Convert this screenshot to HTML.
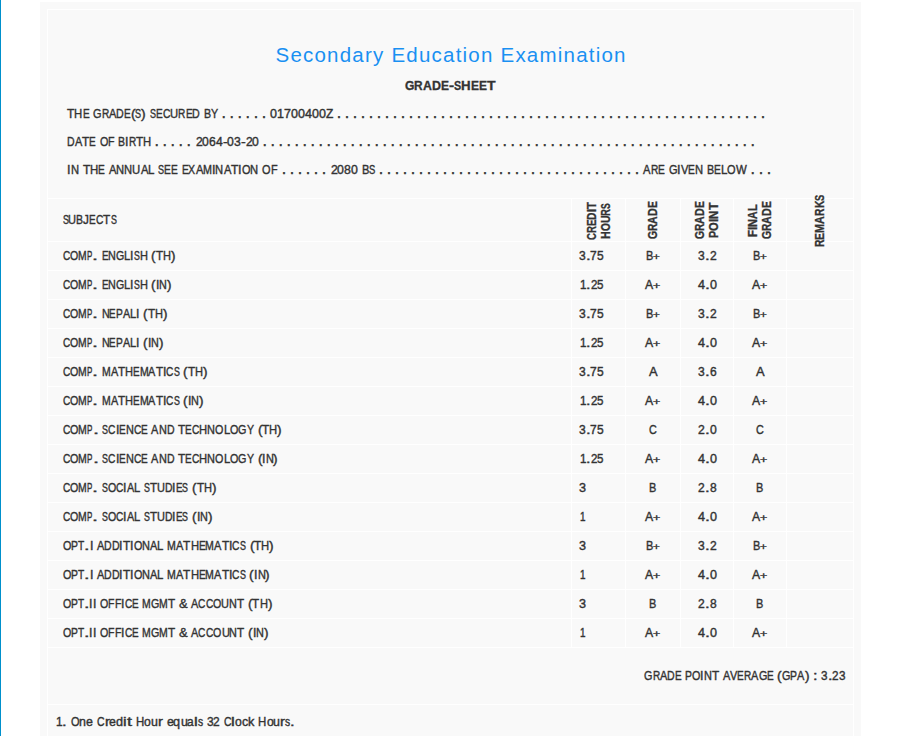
<!DOCTYPE html>
<html><head><meta charset="utf-8"><title>Grade Sheet</title>
<style>
html,body{margin:0;padding:0;}
html{width:897px;height:736px;overflow:hidden;}
body{width:897px;height:736px;overflow:hidden;background:#ffffff;position:relative;font-family:"Liberation Sans",sans-serif;}
.bar{position:absolute;left:0;top:0;width:1px;height:736px;background:#0090cc;}
.outer{position:absolute;left:40px;top:2px;width:821px;height:734px;background:#f9f9f9;}
.inner{position:absolute;left:47px;top:9px;width:805px;height:726px;background:#f9f9f9;border:1px solid #ffffff;border-bottom:none;}
.hl{position:absolute;height:1px;background:#ffffff;left:48px;width:805px;}
.vl{position:absolute;width:1px;background:#ffffff;top:198px;height:450px;}
.t{position:absolute;white-space:nowrap;line-height:20px;transform-origin:0 0;-webkit-text-stroke:0.40px #333333;}
.t i{display:inline-block;font-style:normal;transform-origin:0 50%;}
.b{font-weight:bold;-webkit-text-stroke:0.33px #333333;}
.ttl{-webkit-text-stroke:0.3px #f9f9f9;}
.dt{color:#333;}
</style></head><body>
<div class="bar"></div><div class="outer"></div><div class="inner"></div>

<div class="hl" style="top:198px"></div>
<div class="hl" style="top:241px"></div>
<div class="hl" style="top:270px"></div>
<div class="hl" style="top:299px"></div>
<div class="hl" style="top:328px"></div>
<div class="hl" style="top:357px"></div>
<div class="hl" style="top:386px"></div>
<div class="hl" style="top:415px"></div>
<div class="hl" style="top:444px"></div>
<div class="hl" style="top:473px"></div>
<div class="hl" style="top:502px"></div>
<div class="hl" style="top:531px"></div>
<div class="hl" style="top:560px"></div>
<div class="hl" style="top:589px"></div>
<div class="hl" style="top:618px"></div>
<div class="hl" style="top:647px"></div>
<div class="hl" style="top:704px"></div>
<div class="vl" style="left:571px"></div>
<div class="vl" style="left:625px"></div>
<div class="vl" style="left:680px"></div>
<div class="vl" style="left:733px"></div>
<div class="vl" style="left:786px"></div>
<span class="t dt" style="left:221.48px;top:103.36px;font-size:16.0px;letter-spacing:3.595px">......</span>
<span class="t dt" style="left:336.63px;top:103.36px;font-size:16.0px;letter-spacing:3.558px">......................................................</span>
<span class="t dt" style="left:154.48px;top:131.36px;font-size:16.0px;letter-spacing:3.580px">.....</span>
<span class="t dt" style="left:262.43px;top:131.36px;font-size:16.0px;letter-spacing:3.557px">..............................................................</span>
<span class="t dt" style="left:281.68px;top:159.36px;font-size:16.0px;letter-spacing:3.555px">......</span>
<span class="t dt" style="left:378.68px;top:159.36px;font-size:16.0px;letter-spacing:3.558px">.................................</span>
<span class="t dt" style="left:750.58px;top:159.36px;font-size:16.0px;letter-spacing:3.605px">...</span>
<svg class="tsvg" width="897" height="100" viewBox="0 0 897 100" style="position:absolute;left:0;top:0"><text x="275.5" y="62" font-size="20.5" fill="#1990f2" textLength="350" lengthAdjust="spacing" style="font-family:'Liberation Sans',sans-serif">Secondary Education Examination</text></svg>
<span class="t b" id="t1" style="left:405.00px;top:75.59px;font-size:13.60px;color:#333333"><i style="transform:scaleX(0.889);margin-right:-1.17px">G</i><i style="transform:scaleX(0.872);margin-right:-1.26px">R</i><i style="transform:scaleX(0.905);margin-right:-0.93px">A</i><i style="transform:scaleX(0.918);margin-right:-0.81px">D</i><i style="transform:scaleX(0.881);margin-right:-1.08px">E</i><i style="transform:scaleX(1.136);margin-right:0.62px">-</i><i style="transform:scaleX(0.790);margin-right:-1.91px">S</i><i style="transform:scaleX(0.976);margin-right:-0.23px">H</i><i style="transform:scaleX(0.881);margin-right:-1.08px">E</i><i style="transform:scaleX(0.881);margin-right:-1.08px">E</i><i style="transform:scaleX(1.031);margin-right:0.26px">T</i></span>
<span class="t" id="t2" style="left:67.20px;top:103.57px;font-size:12.50px;color:#333333"><i style="transform:scaleX(0.954);margin-right:-0.35px">T</i><i style="transform:scaleX(0.908);margin-right:-0.83px">H</i><i style="transform:scaleX(0.806);margin-right:-1.62px">E</i><i style="transform:scaleX(0.871);margin-right:-1.25px;margin-left:3.77px">G</i><i style="transform:scaleX(0.808);margin-right:-1.73px">R</i><i style="transform:scaleX(0.887);margin-right:-0.94px">A</i><i style="transform:scaleX(0.851);margin-right:-1.34px">D</i><i style="transform:scaleX(0.806);margin-right:-1.62px">E</i><i style="transform:scaleX(1.105);margin-right:0.44px">(</i><i style="transform:scaleX(0.723);margin-right:-2.31px">S</i><i style="transform:scaleX(1.105);margin-right:0.44px">)</i><i style="transform:scaleX(0.723);margin-right:-2.31px;margin-left:3.77px">S</i><i style="transform:scaleX(0.806);margin-right:-1.62px">E</i><i style="transform:scaleX(0.830);margin-right:-1.53px">C</i><i style="transform:scaleX(0.900);margin-right:-0.91px">U</i><i style="transform:scaleX(0.808);margin-right:-1.73px">R</i><i style="transform:scaleX(0.806);margin-right:-1.62px">E</i><i style="transform:scaleX(0.851);margin-right:-1.34px">D</i><i style="transform:scaleX(0.851);margin-right:-1.24px;margin-left:3.77px">B</i><i style="transform:scaleX(0.857);margin-right:-1.19px">Y</i></span>
<span class="t" id="t3" style="left:270.30px;top:103.57px;font-size:12.50px;color:#333333"><i style="transform:scaleX(1.001);margin-right:0.01px">0</i><i style="transform:scaleX(1.001);margin-right:0.01px">1</i><i style="transform:scaleX(1.001);margin-right:0.01px">7</i><i style="transform:scaleX(1.001);margin-right:0.01px">0</i><i style="transform:scaleX(1.001);margin-right:0.01px">0</i><i style="transform:scaleX(1.001);margin-right:0.01px">4</i><i style="transform:scaleX(1.001);margin-right:0.01px">0</i><i style="transform:scaleX(1.001);margin-right:0.01px">0</i><i style="transform:scaleX(0.957);margin-right:-0.33px">Z</i></span>
<span class="t" id="t4" style="left:67.20px;top:132.07px;font-size:12.50px;color:#333333"><i style="transform:scaleX(0.841);margin-right:-1.43px">D</i><i style="transform:scaleX(0.876);margin-right:-1.03px">A</i><i style="transform:scaleX(0.942);margin-right:-0.44px">T</i><i style="transform:scaleX(0.796);margin-right:-1.70px">E</i><i style="transform:scaleX(0.859);margin-right:-1.37px;margin-left:3.73px">O</i><i style="transform:scaleX(0.852);margin-right:-1.13px">F</i><i style="transform:scaleX(0.841);margin-right:-1.33px;margin-left:3.73px">B</i><i style="transform:scaleX(0.991);margin-right:-0.03px">I</i><i style="transform:scaleX(0.799);margin-right:-1.82px">R</i><i style="transform:scaleX(0.942);margin-right:-0.44px">T</i><i style="transform:scaleX(0.897);margin-right:-0.93px">H</i></span>
<span class="t" id="t5" style="left:195.50px;top:132.07px;font-size:12.50px;color:#333333"><i style="transform:scaleX(0.973);margin-right:-0.19px">2</i><i style="transform:scaleX(0.973);margin-right:-0.19px">0</i><i style="transform:scaleX(0.973);margin-right:-0.19px">6</i><i style="transform:scaleX(0.973);margin-right:-0.19px">4</i><i style="transform:scaleX(1.138);margin-right:0.58px">-</i><i style="transform:scaleX(0.973);margin-right:-0.19px">0</i><i style="transform:scaleX(0.973);margin-right:-0.19px">3</i><i style="transform:scaleX(1.138);margin-right:0.58px">-</i><i style="transform:scaleX(0.973);margin-right:-0.19px">2</i><i style="transform:scaleX(0.973);margin-right:-0.19px">0</i></span>
<span class="t" id="t6" style="left:67.20px;top:160.07px;font-size:12.50px;color:#333333"><i style="transform:scaleX(1.011);margin-right:0.04px">I</i><i style="transform:scaleX(0.892);margin-right:-0.97px">N</i><i style="transform:scaleX(0.961);margin-right:-0.30px;margin-left:3.80px">T</i><i style="transform:scaleX(0.915);margin-right:-0.77px">H</i><i style="transform:scaleX(0.812);margin-right:-1.57px">E</i><i style="transform:scaleX(0.894);margin-right:-0.89px;margin-left:3.80px">A</i><i style="transform:scaleX(0.892);margin-right:-0.97px">N</i><i style="transform:scaleX(0.892);margin-right:-0.97px">N</i><i style="transform:scaleX(0.906);margin-right:-0.84px">U</i><i style="transform:scaleX(0.894);margin-right:-0.89px">A</i><i style="transform:scaleX(0.919);margin-right:-0.56px">L</i><i style="transform:scaleX(0.728);margin-right:-2.26px;margin-left:3.80px">S</i><i style="transform:scaleX(0.812);margin-right:-1.57px">E</i><i style="transform:scaleX(0.812);margin-right:-1.57px">E</i><i style="transform:scaleX(0.812);margin-right:-1.57px;margin-left:3.80px">E</i><i style="transform:scaleX(0.844);margin-right:-1.30px">X</i><i style="transform:scaleX(0.894);margin-right:-0.89px">A</i><i style="transform:scaleX(0.860);margin-right:-1.46px">M</i><i style="transform:scaleX(1.011);margin-right:0.04px">I</i><i style="transform:scaleX(0.892);margin-right:-0.97px">N</i><i style="transform:scaleX(0.894);margin-right:-0.89px">A</i><i style="transform:scaleX(0.961);margin-right:-0.30px">T</i><i style="transform:scaleX(1.011);margin-right:0.04px">I</i><i style="transform:scaleX(0.875);margin-right:-1.21px">O</i><i style="transform:scaleX(0.892);margin-right:-0.97px">N</i><i style="transform:scaleX(0.875);margin-right:-1.21px;margin-left:3.80px">O</i><i style="transform:scaleX(0.868);margin-right:-1.01px">F</i></span>
<span class="t" id="t7" style="left:330.50px;top:160.07px;font-size:12.50px;color:#333333"><i style="transform:scaleX(0.985);margin-right:-0.11px">2</i><i style="transform:scaleX(0.985);margin-right:-0.11px">0</i><i style="transform:scaleX(0.985);margin-right:-0.11px">8</i><i style="transform:scaleX(0.985);margin-right:-0.11px">0</i><i style="transform:scaleX(0.887);margin-right:-0.94px;margin-left:3.93px">B</i><i style="transform:scaleX(0.754);margin-right:-2.05px">S</i></span>
<span class="t" id="t8" style="left:643.30px;top:160.07px;font-size:12.50px;color:#333333"><i style="transform:scaleX(0.895);margin-right:-0.87px">A</i><i style="transform:scaleX(0.815);margin-right:-1.67px">R</i><i style="transform:scaleX(0.813);margin-right:-1.56px">E</i><i style="transform:scaleX(0.879);margin-right:-1.17px;margin-left:3.81px">G</i><i style="transform:scaleX(1.013);margin-right:0.04px">I</i><i style="transform:scaleX(0.891);margin-right:-0.91px">V</i><i style="transform:scaleX(0.813);margin-right:-1.56px">E</i><i style="transform:scaleX(0.894);margin-right:-0.96px">N</i><i style="transform:scaleX(0.859);margin-right:-1.18px;margin-left:3.81px">B</i><i style="transform:scaleX(0.813);margin-right:-1.56px">E</i><i style="transform:scaleX(0.921);margin-right:-0.55px">L</i><i style="transform:scaleX(0.877);margin-right:-1.20px">O</i><i style="transform:scaleX(0.913);margin-right:-1.02px">W</i></span>
<span class="t" id="t9" style="left:62.50px;top:209.67px;font-size:12.50px;color:#333333"><i style="transform:scaleX(0.712);margin-right:-2.40px">S</i><i style="transform:scaleX(0.886);margin-right:-1.03px">U</i><i style="transform:scaleX(0.838);margin-right:-1.35px">B</i><i style="transform:scaleX(0.942);margin-right:-0.36px">J</i><i style="transform:scaleX(0.793);margin-right:-1.72px">E</i><i style="transform:scaleX(0.817);margin-right:-1.65px">C</i><i style="transform:scaleX(0.939);margin-right:-0.47px">T</i><i style="transform:scaleX(0.712);margin-right:-2.40px">S</i></span>
<span class="t" id="t10" style="left:62.50px;top:245.67px;font-size:12.50px;color:#333333"><i style="transform:scaleX(0.807);margin-right:-1.74px">C</i><i style="transform:scaleX(0.844);margin-right:-1.51px">O</i><i style="transform:scaleX(0.829);margin-right:-1.78px">M</i><i style="transform:scaleX(0.635);margin-right:-3.04px">P</i><i style="transform:scaleX(1.719);margin-right:2.50px">.</i><i style="transform:scaleX(0.783);margin-right:-1.81px;margin-left:3.67px">E</i><i style="transform:scaleX(0.861);margin-right:-1.26px">N</i><i style="transform:scaleX(0.847);margin-right:-1.49px">G</i><i style="transform:scaleX(0.886);margin-right:-0.79px">L</i><i style="transform:scaleX(0.975);margin-right:-0.09px">I</i><i style="transform:scaleX(0.703);margin-right:-2.48px">S</i><i style="transform:scaleX(0.882);margin-right:-1.06px">H</i><i style="transform:scaleX(1.074);margin-right:0.31px;margin-left:3.67px">(</i><i style="transform:scaleX(0.927);margin-right:-0.56px">T</i><i style="transform:scaleX(0.882);margin-right:-1.06px">H</i><i style="transform:scaleX(1.074);margin-right:0.31px">)</i></span>
<span class="t" id="t11" style="left:578.80px;top:245.67px;font-size:12.50px;color:#333333"><i style="transform:scaleX(0.964);margin-right:-0.25px">3</i><i style="transform:scaleX(1.352);margin-right:1.22px">.</i><i style="transform:scaleX(0.964);margin-right:-0.25px">7</i><i style="transform:scaleX(0.964);margin-right:-0.25px">5</i></span>
<span class="t" id="t12" style="left:645.95px;top:245.67px;font-size:12.50px;color:#333333"><i style="transform:scaleX(0.878);margin-right:-1.02px">B</i><i style="transform:scaleX(1.190);margin-right:1.08px;font-size:9.75px;position:relative;top:0.1px">+</i></span>
<span class="t" id="t13" style="left:698.25px;top:245.67px;font-size:12.50px;color:#333333"><i style="transform:scaleX(0.964);margin-right:-0.25px">3</i><i style="transform:scaleX(1.352);margin-right:1.22px">.</i><i style="transform:scaleX(0.964);margin-right:-0.25px">2</i></span>
<span class="t" id="t14" style="left:752.95px;top:245.67px;font-size:12.50px;color:#333333"><i style="transform:scaleX(0.878);margin-right:-1.02px">B</i><i style="transform:scaleX(1.190);margin-right:1.08px;font-size:9.75px;position:relative;top:0.1px">+</i></span>
<span class="t" id="t15" style="left:62.50px;top:274.67px;font-size:12.50px;color:#333333"><i style="transform:scaleX(0.806);margin-right:-1.75px">C</i><i style="transform:scaleX(0.843);margin-right:-1.52px">O</i><i style="transform:scaleX(0.828);margin-right:-1.79px">M</i><i style="transform:scaleX(0.634);margin-right:-3.05px">P</i><i style="transform:scaleX(1.717);margin-right:2.49px">.</i><i style="transform:scaleX(0.782);margin-right:-1.82px;margin-left:3.66px">E</i><i style="transform:scaleX(0.860);margin-right:-1.27px">N</i><i style="transform:scaleX(0.846);margin-right:-1.50px">G</i><i style="transform:scaleX(0.885);margin-right:-0.80px">L</i><i style="transform:scaleX(0.974);margin-right:-0.09px">I</i><i style="transform:scaleX(0.702);margin-right:-2.49px">S</i><i style="transform:scaleX(0.881);margin-right:-1.07px">H</i><i style="transform:scaleX(1.073);margin-right:0.30px;margin-left:3.66px">(</i><i style="transform:scaleX(0.974);margin-right:-0.09px">I</i><i style="transform:scaleX(0.860);margin-right:-1.27px">N</i><i style="transform:scaleX(1.073);margin-right:0.30px">)</i></span>
<span class="t" id="t16" style="left:579.80px;top:274.67px;font-size:12.50px;color:#333333"><i style="transform:scaleX(0.925);margin-right:-0.52px">1</i><i style="transform:scaleX(1.297);margin-right:1.03px">.</i><i style="transform:scaleX(0.925);margin-right:-0.52px">2</i><i style="transform:scaleX(0.925);margin-right:-0.52px">5</i></span>
<span class="t" id="t17" style="left:645.30px;top:274.67px;font-size:12.50px;color:#333333"><i style="transform:scaleX(0.978);margin-right:-0.18px">A</i><i style="transform:scaleX(1.272);margin-right:1.55px;font-size:9.75px;position:relative;top:0.1px">+</i></span>
<span class="t" id="t18" style="left:697.85px;top:274.67px;font-size:12.50px;color:#333333"><i style="transform:scaleX(1.007);margin-right:0.05px">4</i><i style="transform:scaleX(1.411);margin-right:1.43px">.</i><i style="transform:scaleX(1.007);margin-right:0.05px">0</i></span>
<span class="t" id="t19" style="left:752.30px;top:274.67px;font-size:12.50px;color:#333333"><i style="transform:scaleX(0.978);margin-right:-0.18px">A</i><i style="transform:scaleX(1.272);margin-right:1.55px;font-size:9.75px;position:relative;top:0.1px">+</i></span>
<span class="t" id="t20" style="left:62.50px;top:303.67px;font-size:12.50px;color:#333333"><i style="transform:scaleX(0.807);margin-right:-1.74px">C</i><i style="transform:scaleX(0.845);margin-right:-1.51px">O</i><i style="transform:scaleX(0.830);margin-right:-1.77px">M</i><i style="transform:scaleX(0.636);margin-right:-3.04px">P</i><i style="transform:scaleX(1.720);margin-right:2.50px">.</i><i style="transform:scaleX(0.861);margin-right:-1.25px;margin-left:3.67px">N</i><i style="transform:scaleX(0.783);margin-right:-1.81px">E</i><i style="transform:scaleX(0.816);margin-right:-1.54px">P</i><i style="transform:scaleX(0.862);margin-right:-1.15px">A</i><i style="transform:scaleX(0.887);margin-right:-0.79px">L</i><i style="transform:scaleX(0.976);margin-right:-0.08px">I</i><i style="transform:scaleX(1.074);margin-right:0.31px;margin-left:3.67px">(</i><i style="transform:scaleX(0.927);margin-right:-0.55px">T</i><i style="transform:scaleX(0.883);margin-right:-1.06px">H</i><i style="transform:scaleX(1.074);margin-right:0.31px">)</i></span>
<span class="t" id="t21" style="left:578.80px;top:303.67px;font-size:12.50px;color:#333333"><i style="transform:scaleX(0.964);margin-right:-0.25px">3</i><i style="transform:scaleX(1.352);margin-right:1.22px">.</i><i style="transform:scaleX(0.964);margin-right:-0.25px">7</i><i style="transform:scaleX(0.964);margin-right:-0.25px">5</i></span>
<span class="t" id="t22" style="left:645.95px;top:303.67px;font-size:12.50px;color:#333333"><i style="transform:scaleX(0.878);margin-right:-1.02px">B</i><i style="transform:scaleX(1.190);margin-right:1.08px;font-size:9.75px;position:relative;top:0.1px">+</i></span>
<span class="t" id="t23" style="left:698.25px;top:303.67px;font-size:12.50px;color:#333333"><i style="transform:scaleX(0.964);margin-right:-0.25px">3</i><i style="transform:scaleX(1.352);margin-right:1.22px">.</i><i style="transform:scaleX(0.964);margin-right:-0.25px">2</i></span>
<span class="t" id="t24" style="left:752.95px;top:303.67px;font-size:12.50px;color:#333333"><i style="transform:scaleX(0.878);margin-right:-1.02px">B</i><i style="transform:scaleX(1.190);margin-right:1.08px;font-size:9.75px;position:relative;top:0.1px">+</i></span>
<span class="t" id="t25" style="left:62.50px;top:332.67px;font-size:12.50px;color:#333333"><i style="transform:scaleX(0.806);margin-right:-1.75px">C</i><i style="transform:scaleX(0.844);margin-right:-1.52px">O</i><i style="transform:scaleX(0.829);margin-right:-1.78px">M</i><i style="transform:scaleX(0.635);margin-right:-3.04px">P</i><i style="transform:scaleX(1.718);margin-right:2.49px">.</i><i style="transform:scaleX(0.860);margin-right:-1.26px;margin-left:3.66px">N</i><i style="transform:scaleX(0.783);margin-right:-1.81px">E</i><i style="transform:scaleX(0.815);margin-right:-1.54px">P</i><i style="transform:scaleX(0.861);margin-right:-1.16px">A</i><i style="transform:scaleX(0.886);margin-right:-0.79px">L</i><i style="transform:scaleX(0.974);margin-right:-0.09px">I</i><i style="transform:scaleX(1.073);margin-right:0.30px;margin-left:3.66px">(</i><i style="transform:scaleX(0.974);margin-right:-0.09px">I</i><i style="transform:scaleX(0.860);margin-right:-1.26px">N</i><i style="transform:scaleX(1.073);margin-right:0.30px">)</i></span>
<span class="t" id="t26" style="left:579.80px;top:332.67px;font-size:12.50px;color:#333333"><i style="transform:scaleX(0.925);margin-right:-0.52px">1</i><i style="transform:scaleX(1.297);margin-right:1.03px">.</i><i style="transform:scaleX(0.925);margin-right:-0.52px">2</i><i style="transform:scaleX(0.925);margin-right:-0.52px">5</i></span>
<span class="t" id="t27" style="left:645.30px;top:332.67px;font-size:12.50px;color:#333333"><i style="transform:scaleX(0.978);margin-right:-0.18px">A</i><i style="transform:scaleX(1.272);margin-right:1.55px;font-size:9.75px;position:relative;top:0.1px">+</i></span>
<span class="t" id="t28" style="left:697.85px;top:332.67px;font-size:12.50px;color:#333333"><i style="transform:scaleX(1.007);margin-right:0.05px">4</i><i style="transform:scaleX(1.411);margin-right:1.43px">.</i><i style="transform:scaleX(1.007);margin-right:0.05px">0</i></span>
<span class="t" id="t29" style="left:752.30px;top:332.67px;font-size:12.50px;color:#333333"><i style="transform:scaleX(0.978);margin-right:-0.18px">A</i><i style="transform:scaleX(1.272);margin-right:1.55px;font-size:9.75px;position:relative;top:0.1px">+</i></span>
<span class="t" id="t30" style="left:62.50px;top:361.67px;font-size:12.50px;color:#333333"><i style="transform:scaleX(0.813);margin-right:-1.68px">C</i><i style="transform:scaleX(0.851);margin-right:-1.45px">O</i><i style="transform:scaleX(0.836);margin-right:-1.71px">M</i><i style="transform:scaleX(0.642);margin-right:-2.99px">P</i><i style="transform:scaleX(1.730);margin-right:2.53px">.</i><i style="transform:scaleX(0.836);margin-right:-1.71px;margin-left:3.70px">M</i><i style="transform:scaleX(0.869);margin-right:-1.09px">A</i><i style="transform:scaleX(0.934);margin-right:-0.50px">T</i><i style="transform:scaleX(0.890);margin-right:-1.00px">H</i><i style="transform:scaleX(0.789);margin-right:-1.76px">E</i><i style="transform:scaleX(0.836);margin-right:-1.71px">M</i><i style="transform:scaleX(0.869);margin-right:-1.09px">A</i><i style="transform:scaleX(0.934);margin-right:-0.50px">T</i><i style="transform:scaleX(0.983);margin-right:-0.06px">I</i><i style="transform:scaleX(0.813);margin-right:-1.68px">C</i><i style="transform:scaleX(0.708);margin-right:-2.43px">S</i><i style="transform:scaleX(1.083);margin-right:0.34px;margin-left:3.70px">(</i><i style="transform:scaleX(0.934);margin-right:-0.50px">T</i><i style="transform:scaleX(0.890);margin-right:-1.00px">H</i><i style="transform:scaleX(1.083);margin-right:0.34px">)</i></span>
<span class="t" id="t31" style="left:578.80px;top:361.67px;font-size:12.50px;color:#333333"><i style="transform:scaleX(0.964);margin-right:-0.25px">3</i><i style="transform:scaleX(1.352);margin-right:1.22px">.</i><i style="transform:scaleX(0.964);margin-right:-0.25px">7</i><i style="transform:scaleX(0.964);margin-right:-0.25px">5</i></span>
<span class="t" id="t32" style="left:648.70px;top:361.67px;font-size:12.50px;color:#333333"><i style="transform:scaleX(1.031);margin-right:0.26px">A</i></span>
<span class="t" id="t33" style="left:698.25px;top:361.67px;font-size:12.50px;color:#333333"><i style="transform:scaleX(0.964);margin-right:-0.25px">3</i><i style="transform:scaleX(1.352);margin-right:1.22px">.</i><i style="transform:scaleX(0.964);margin-right:-0.25px">6</i></span>
<span class="t" id="t34" style="left:755.70px;top:361.67px;font-size:12.50px;color:#333333"><i style="transform:scaleX(1.031);margin-right:0.26px">A</i></span>
<span class="t" id="t35" style="left:62.50px;top:390.67px;font-size:12.50px;color:#333333"><i style="transform:scaleX(0.813);margin-right:-1.69px">C</i><i style="transform:scaleX(0.851);margin-right:-1.45px">O</i><i style="transform:scaleX(0.836);margin-right:-1.71px">M</i><i style="transform:scaleX(0.641);margin-right:-2.99px">P</i><i style="transform:scaleX(1.729);margin-right:2.53px">.</i><i style="transform:scaleX(0.836);margin-right:-1.71px;margin-left:3.69px">M</i><i style="transform:scaleX(0.868);margin-right:-1.10px">A</i><i style="transform:scaleX(0.934);margin-right:-0.51px">T</i><i style="transform:scaleX(0.889);margin-right:-1.00px">H</i><i style="transform:scaleX(0.789);margin-right:-1.76px">E</i><i style="transform:scaleX(0.836);margin-right:-1.71px">M</i><i style="transform:scaleX(0.868);margin-right:-1.10px">A</i><i style="transform:scaleX(0.934);margin-right:-0.51px">T</i><i style="transform:scaleX(0.982);margin-right:-0.06px">I</i><i style="transform:scaleX(0.813);margin-right:-1.69px">C</i><i style="transform:scaleX(0.708);margin-right:-2.43px">S</i><i style="transform:scaleX(1.082);margin-right:0.34px;margin-left:3.69px">(</i><i style="transform:scaleX(0.982);margin-right:-0.06px">I</i><i style="transform:scaleX(0.867);margin-right:-1.20px">N</i><i style="transform:scaleX(1.082);margin-right:0.34px">)</i></span>
<span class="t" id="t36" style="left:579.80px;top:390.67px;font-size:12.50px;color:#333333"><i style="transform:scaleX(0.925);margin-right:-0.52px">1</i><i style="transform:scaleX(1.297);margin-right:1.03px">.</i><i style="transform:scaleX(0.925);margin-right:-0.52px">2</i><i style="transform:scaleX(0.925);margin-right:-0.52px">5</i></span>
<span class="t" id="t37" style="left:645.30px;top:390.67px;font-size:12.50px;color:#333333"><i style="transform:scaleX(0.978);margin-right:-0.18px">A</i><i style="transform:scaleX(1.272);margin-right:1.55px;font-size:9.75px;position:relative;top:0.1px">+</i></span>
<span class="t" id="t38" style="left:697.85px;top:390.67px;font-size:12.50px;color:#333333"><i style="transform:scaleX(1.007);margin-right:0.05px">4</i><i style="transform:scaleX(1.411);margin-right:1.43px">.</i><i style="transform:scaleX(1.007);margin-right:0.05px">0</i></span>
<span class="t" id="t39" style="left:752.30px;top:390.67px;font-size:12.50px;color:#333333"><i style="transform:scaleX(0.978);margin-right:-0.18px">A</i><i style="transform:scaleX(1.272);margin-right:1.55px;font-size:9.75px;position:relative;top:0.1px">+</i></span>
<span class="t" id="t40" style="left:62.50px;top:419.67px;font-size:12.50px;color:#333333"><i style="transform:scaleX(0.820);margin-right:-1.62px">C</i><i style="transform:scaleX(0.858);margin-right:-1.38px">O</i><i style="transform:scaleX(0.843);margin-right:-1.63px">M</i><i style="transform:scaleX(0.649);margin-right:-2.93px">P</i><i style="transform:scaleX(1.741);margin-right:2.57px">.</i><i style="transform:scaleX(0.714);margin-right:-2.38px;margin-left:3.73px">S</i><i style="transform:scaleX(0.820);margin-right:-1.62px">C</i><i style="transform:scaleX(0.991);margin-right:-0.03px">I</i><i style="transform:scaleX(0.796);margin-right:-1.70px">E</i><i style="transform:scaleX(0.875);margin-right:-1.13px">N</i><i style="transform:scaleX(0.820);margin-right:-1.62px">C</i><i style="transform:scaleX(0.796);margin-right:-1.70px">E</i><i style="transform:scaleX(0.876);margin-right:-1.03px;margin-left:3.73px">A</i><i style="transform:scaleX(0.875);margin-right:-1.13px">N</i><i style="transform:scaleX(0.841);margin-right:-1.44px">D</i><i style="transform:scaleX(0.942);margin-right:-0.44px;margin-left:3.73px">T</i><i style="transform:scaleX(0.796);margin-right:-1.70px">E</i><i style="transform:scaleX(0.820);margin-right:-1.62px">C</i><i style="transform:scaleX(0.897);margin-right:-0.93px">H</i><i style="transform:scaleX(0.875);margin-right:-1.13px">N</i><i style="transform:scaleX(0.858);margin-right:-1.38px">O</i><i style="transform:scaleX(0.901);margin-right:-0.69px">L</i><i style="transform:scaleX(0.858);margin-right:-1.38px">O</i><i style="transform:scaleX(0.861);margin-right:-1.35px">G</i><i style="transform:scaleX(0.847);margin-right:-1.28px">Y</i><i style="transform:scaleX(1.092);margin-right:0.38px;margin-left:3.73px">(</i><i style="transform:scaleX(0.942);margin-right:-0.44px">T</i><i style="transform:scaleX(0.897);margin-right:-0.93px">H</i><i style="transform:scaleX(1.092);margin-right:0.38px">)</i></span>
<span class="t" id="t41" style="left:578.80px;top:419.67px;font-size:12.50px;color:#333333"><i style="transform:scaleX(0.964);margin-right:-0.25px">3</i><i style="transform:scaleX(1.352);margin-right:1.22px">.</i><i style="transform:scaleX(0.964);margin-right:-0.25px">7</i><i style="transform:scaleX(0.964);margin-right:-0.25px">5</i></span>
<span class="t" id="t42" style="left:649.10px;top:419.67px;font-size:12.50px;color:#333333"><i style="transform:scaleX(0.864);margin-right:-1.23px">C</i></span>
<span class="t" id="t43" style="left:698.15px;top:419.67px;font-size:12.50px;color:#333333"><i style="transform:scaleX(0.975);margin-right:-0.18px">2</i><i style="transform:scaleX(1.367);margin-right:1.27px">.</i><i style="transform:scaleX(0.975);margin-right:-0.18px">0</i></span>
<span class="t" id="t44" style="left:756.10px;top:419.67px;font-size:12.50px;color:#333333"><i style="transform:scaleX(0.864);margin-right:-1.23px">C</i></span>
<span class="t" id="t45" style="left:62.50px;top:448.67px;font-size:12.50px;color:#333333"><i style="transform:scaleX(0.820);margin-right:-1.62px">C</i><i style="transform:scaleX(0.858);margin-right:-1.38px">O</i><i style="transform:scaleX(0.843);margin-right:-1.63px">M</i><i style="transform:scaleX(0.649);margin-right:-2.93px">P</i><i style="transform:scaleX(1.740);margin-right:2.57px">.</i><i style="transform:scaleX(0.714);margin-right:-2.38px;margin-left:3.73px">S</i><i style="transform:scaleX(0.820);margin-right:-1.62px">C</i><i style="transform:scaleX(0.991);margin-right:-0.03px">I</i><i style="transform:scaleX(0.796);margin-right:-1.70px">E</i><i style="transform:scaleX(0.875);margin-right:-1.13px">N</i><i style="transform:scaleX(0.820);margin-right:-1.62px">C</i><i style="transform:scaleX(0.796);margin-right:-1.70px">E</i><i style="transform:scaleX(0.876);margin-right:-1.03px;margin-left:3.73px">A</i><i style="transform:scaleX(0.875);margin-right:-1.13px">N</i><i style="transform:scaleX(0.841);margin-right:-1.44px">D</i><i style="transform:scaleX(0.942);margin-right:-0.44px;margin-left:3.73px">T</i><i style="transform:scaleX(0.796);margin-right:-1.70px">E</i><i style="transform:scaleX(0.820);margin-right:-1.62px">C</i><i style="transform:scaleX(0.897);margin-right:-0.93px">H</i><i style="transform:scaleX(0.875);margin-right:-1.13px">N</i><i style="transform:scaleX(0.858);margin-right:-1.38px">O</i><i style="transform:scaleX(0.901);margin-right:-0.69px">L</i><i style="transform:scaleX(0.858);margin-right:-1.38px">O</i><i style="transform:scaleX(0.861);margin-right:-1.35px">G</i><i style="transform:scaleX(0.846);margin-right:-1.28px">Y</i><i style="transform:scaleX(1.092);margin-right:0.38px;margin-left:3.73px">(</i><i style="transform:scaleX(0.991);margin-right:-0.03px">I</i><i style="transform:scaleX(0.875);margin-right:-1.13px">N</i><i style="transform:scaleX(1.092);margin-right:0.38px">)</i></span>
<span class="t" id="t46" style="left:579.80px;top:448.67px;font-size:12.50px;color:#333333"><i style="transform:scaleX(0.925);margin-right:-0.52px">1</i><i style="transform:scaleX(1.297);margin-right:1.03px">.</i><i style="transform:scaleX(0.925);margin-right:-0.52px">2</i><i style="transform:scaleX(0.925);margin-right:-0.52px">5</i></span>
<span class="t" id="t47" style="left:645.30px;top:448.67px;font-size:12.50px;color:#333333"><i style="transform:scaleX(0.978);margin-right:-0.18px">A</i><i style="transform:scaleX(1.272);margin-right:1.55px;font-size:9.75px;position:relative;top:0.1px">+</i></span>
<span class="t" id="t48" style="left:697.85px;top:448.67px;font-size:12.50px;color:#333333"><i style="transform:scaleX(1.007);margin-right:0.05px">4</i><i style="transform:scaleX(1.411);margin-right:1.43px">.</i><i style="transform:scaleX(1.007);margin-right:0.05px">0</i></span>
<span class="t" id="t49" style="left:752.30px;top:448.67px;font-size:12.50px;color:#333333"><i style="transform:scaleX(0.978);margin-right:-0.18px">A</i><i style="transform:scaleX(1.272);margin-right:1.55px;font-size:9.75px;position:relative;top:0.1px">+</i></span>
<span class="t" id="t50" style="left:62.50px;top:477.67px;font-size:12.50px;color:#333333"><i style="transform:scaleX(0.812);margin-right:-1.70px">C</i><i style="transform:scaleX(0.850);margin-right:-1.46px">O</i><i style="transform:scaleX(0.835);margin-right:-1.72px">M</i><i style="transform:scaleX(0.640);margin-right:-3.00px">P</i><i style="transform:scaleX(1.727);margin-right:2.53px">.</i><i style="transform:scaleX(0.707);margin-right:-2.44px;margin-left:3.69px">S</i><i style="transform:scaleX(0.850);margin-right:-1.46px">O</i><i style="transform:scaleX(0.812);margin-right:-1.70px">C</i><i style="transform:scaleX(0.981);margin-right:-0.07px">I</i><i style="transform:scaleX(0.867);margin-right:-1.11px">A</i><i style="transform:scaleX(0.892);margin-right:-0.75px">L</i><i style="transform:scaleX(0.707);margin-right:-2.44px;margin-left:3.69px">S</i><i style="transform:scaleX(0.933);margin-right:-0.51px">T</i><i style="transform:scaleX(0.880);margin-right:-1.08px">U</i><i style="transform:scaleX(0.832);margin-right:-1.51px">D</i><i style="transform:scaleX(0.981);margin-right:-0.07px">I</i><i style="transform:scaleX(0.788);margin-right:-1.77px">E</i><i style="transform:scaleX(0.707);margin-right:-2.44px">S</i><i style="transform:scaleX(1.081);margin-right:0.34px;margin-left:3.69px">(</i><i style="transform:scaleX(0.933);margin-right:-0.51px">T</i><i style="transform:scaleX(0.888);margin-right:-1.01px">H</i><i style="transform:scaleX(1.081);margin-right:0.34px">)</i></span>
<span class="t" id="t51" style="left:579.00px;top:477.67px;font-size:12.50px;color:#333333"><i style="transform:scaleX(1.007);margin-right:0.05px">3</i></span>
<span class="t" id="t52" style="left:649.35px;top:477.67px;font-size:12.50px;color:#333333"><i style="transform:scaleX(0.876);margin-right:-1.04px">B</i></span>
<span class="t" id="t53" style="left:698.25px;top:477.67px;font-size:12.50px;color:#333333"><i style="transform:scaleX(0.964);margin-right:-0.25px">2</i><i style="transform:scaleX(1.352);margin-right:1.22px">.</i><i style="transform:scaleX(0.964);margin-right:-0.25px">8</i></span>
<span class="t" id="t54" style="left:756.35px;top:477.67px;font-size:12.50px;color:#333333"><i style="transform:scaleX(0.876);margin-right:-1.04px">B</i></span>
<span class="t" id="t55" style="left:62.50px;top:506.67px;font-size:12.50px;color:#333333"><i style="transform:scaleX(0.812);margin-right:-1.70px">C</i><i style="transform:scaleX(0.849);margin-right:-1.47px">O</i><i style="transform:scaleX(0.834);margin-right:-1.73px">M</i><i style="transform:scaleX(0.640);margin-right:-3.00px">P</i><i style="transform:scaleX(1.726);margin-right:2.52px">.</i><i style="transform:scaleX(0.707);margin-right:-2.45px;margin-left:3.69px">S</i><i style="transform:scaleX(0.849);margin-right:-1.47px">O</i><i style="transform:scaleX(0.812);margin-right:-1.70px">C</i><i style="transform:scaleX(0.981);margin-right:-0.07px">I</i><i style="transform:scaleX(0.867);margin-right:-1.11px">A</i><i style="transform:scaleX(0.892);margin-right:-0.75px">L</i><i style="transform:scaleX(0.707);margin-right:-2.45px;margin-left:3.69px">S</i><i style="transform:scaleX(0.932);margin-right:-0.52px">T</i><i style="transform:scaleX(0.879);margin-right:-1.09px">U</i><i style="transform:scaleX(0.832);margin-right:-1.52px">D</i><i style="transform:scaleX(0.981);margin-right:-0.07px">I</i><i style="transform:scaleX(0.788);margin-right:-1.77px">E</i><i style="transform:scaleX(0.707);margin-right:-2.45px">S</i><i style="transform:scaleX(1.080);margin-right:0.33px;margin-left:3.69px">(</i><i style="transform:scaleX(0.981);margin-right:-0.07px">I</i><i style="transform:scaleX(0.866);margin-right:-1.21px">N</i><i style="transform:scaleX(1.080);margin-right:0.33px">)</i></span>
<span class="t" id="t56" style="left:580.00px;top:506.67px;font-size:12.50px;color:#333333"><i style="transform:scaleX(0.791);margin-right:-1.45px">1</i></span>
<span class="t" id="t57" style="left:645.30px;top:506.67px;font-size:12.50px;color:#333333"><i style="transform:scaleX(0.978);margin-right:-0.18px">A</i><i style="transform:scaleX(1.272);margin-right:1.55px;font-size:9.75px;position:relative;top:0.1px">+</i></span>
<span class="t" id="t58" style="left:697.85px;top:506.67px;font-size:12.50px;color:#333333"><i style="transform:scaleX(1.007);margin-right:0.05px">4</i><i style="transform:scaleX(1.411);margin-right:1.43px">.</i><i style="transform:scaleX(1.007);margin-right:0.05px">0</i></span>
<span class="t" id="t59" style="left:752.30px;top:506.67px;font-size:12.50px;color:#333333"><i style="transform:scaleX(0.978);margin-right:-0.18px">A</i><i style="transform:scaleX(1.272);margin-right:1.55px;font-size:9.75px;position:relative;top:0.1px">+</i></span>
<span class="t" id="t60" style="left:62.50px;top:535.67px;font-size:12.50px;color:#333333"><i style="transform:scaleX(0.861);margin-right:-1.35px">O</i><i style="transform:scaleX(0.831);margin-right:-1.41px">P</i><i style="transform:scaleX(0.814);margin-right:-1.42px">T</i><i style="transform:scaleX(1.600);margin-right:2.08px">.</i><i style="transform:scaleX(0.994);margin-right:-0.02px">I</i><i style="transform:scaleX(0.879);margin-right:-1.01px;margin-left:3.74px">A</i><i style="transform:scaleX(0.843);margin-right:-1.41px">D</i><i style="transform:scaleX(0.843);margin-right:-1.41px">D</i><i style="transform:scaleX(0.994);margin-right:-0.02px">I</i><i style="transform:scaleX(0.945);margin-right:-0.42px">T</i><i style="transform:scaleX(0.994);margin-right:-0.02px">I</i><i style="transform:scaleX(0.861);margin-right:-1.35px">O</i><i style="transform:scaleX(0.878);margin-right:-1.10px">N</i><i style="transform:scaleX(0.879);margin-right:-1.01px">A</i><i style="transform:scaleX(0.904);margin-right:-0.67px">L</i><i style="transform:scaleX(0.846);margin-right:-1.61px;margin-left:3.74px">M</i><i style="transform:scaleX(0.879);margin-right:-1.01px">A</i><i style="transform:scaleX(0.945);margin-right:-0.42px">T</i><i style="transform:scaleX(0.900);margin-right:-0.91px">H</i><i style="transform:scaleX(0.798);margin-right:-1.68px">E</i><i style="transform:scaleX(0.846);margin-right:-1.61px">M</i><i style="transform:scaleX(0.879);margin-right:-1.01px">A</i><i style="transform:scaleX(0.945);margin-right:-0.42px">T</i><i style="transform:scaleX(0.994);margin-right:-0.02px">I</i><i style="transform:scaleX(0.823);margin-right:-1.60px">C</i><i style="transform:scaleX(0.716);margin-right:-2.36px">S</i><i style="transform:scaleX(1.095);margin-right:0.40px;margin-left:3.74px">(</i><i style="transform:scaleX(0.945);margin-right:-0.42px">T</i><i style="transform:scaleX(0.900);margin-right:-0.91px">H</i><i style="transform:scaleX(1.095);margin-right:0.40px">)</i></span>
<span class="t" id="t61" style="left:579.00px;top:535.67px;font-size:12.50px;color:#333333"><i style="transform:scaleX(1.007);margin-right:0.05px">3</i></span>
<span class="t" id="t62" style="left:645.95px;top:535.67px;font-size:12.50px;color:#333333"><i style="transform:scaleX(0.878);margin-right:-1.02px">B</i><i style="transform:scaleX(1.190);margin-right:1.08px;font-size:9.75px;position:relative;top:0.1px">+</i></span>
<span class="t" id="t63" style="left:698.25px;top:535.67px;font-size:12.50px;color:#333333"><i style="transform:scaleX(0.964);margin-right:-0.25px">3</i><i style="transform:scaleX(1.352);margin-right:1.22px">.</i><i style="transform:scaleX(0.964);margin-right:-0.25px">2</i></span>
<span class="t" id="t64" style="left:752.95px;top:535.67px;font-size:12.50px;color:#333333"><i style="transform:scaleX(0.878);margin-right:-1.02px">B</i><i style="transform:scaleX(1.190);margin-right:1.08px;font-size:9.75px;position:relative;top:0.1px">+</i></span>
<span class="t" id="t65" style="left:62.50px;top:564.67px;font-size:12.50px;color:#333333"><i style="transform:scaleX(0.861);margin-right:-1.35px">O</i><i style="transform:scaleX(0.831);margin-right:-1.41px">P</i><i style="transform:scaleX(0.814);margin-right:-1.42px">T</i><i style="transform:scaleX(1.600);margin-right:2.08px">.</i><i style="transform:scaleX(0.994);margin-right:-0.02px">I</i><i style="transform:scaleX(0.879);margin-right:-1.01px;margin-left:3.74px">A</i><i style="transform:scaleX(0.843);margin-right:-1.42px">D</i><i style="transform:scaleX(0.843);margin-right:-1.42px">D</i><i style="transform:scaleX(0.994);margin-right:-0.02px">I</i><i style="transform:scaleX(0.945);margin-right:-0.42px">T</i><i style="transform:scaleX(0.994);margin-right:-0.02px">I</i><i style="transform:scaleX(0.861);margin-right:-1.35px">O</i><i style="transform:scaleX(0.878);margin-right:-1.11px">N</i><i style="transform:scaleX(0.879);margin-right:-1.01px">A</i><i style="transform:scaleX(0.904);margin-right:-0.67px">L</i><i style="transform:scaleX(0.845);margin-right:-1.61px;margin-left:3.74px">M</i><i style="transform:scaleX(0.879);margin-right:-1.01px">A</i><i style="transform:scaleX(0.945);margin-right:-0.42px">T</i><i style="transform:scaleX(0.900);margin-right:-0.91px">H</i><i style="transform:scaleX(0.798);margin-right:-1.68px">E</i><i style="transform:scaleX(0.845);margin-right:-1.61px">M</i><i style="transform:scaleX(0.879);margin-right:-1.01px">A</i><i style="transform:scaleX(0.945);margin-right:-0.42px">T</i><i style="transform:scaleX(0.994);margin-right:-0.02px">I</i><i style="transform:scaleX(0.823);margin-right:-1.60px">C</i><i style="transform:scaleX(0.716);margin-right:-2.36px">S</i><i style="transform:scaleX(1.095);margin-right:0.39px;margin-left:3.74px">(</i><i style="transform:scaleX(0.994);margin-right:-0.02px">I</i><i style="transform:scaleX(0.878);margin-right:-1.11px">N</i><i style="transform:scaleX(1.095);margin-right:0.39px">)</i></span>
<span class="t" id="t66" style="left:580.00px;top:564.67px;font-size:12.50px;color:#333333"><i style="transform:scaleX(0.791);margin-right:-1.45px">1</i></span>
<span class="t" id="t67" style="left:645.30px;top:564.67px;font-size:12.50px;color:#333333"><i style="transform:scaleX(0.978);margin-right:-0.18px">A</i><i style="transform:scaleX(1.272);margin-right:1.55px;font-size:9.75px;position:relative;top:0.1px">+</i></span>
<span class="t" id="t68" style="left:697.85px;top:564.67px;font-size:12.50px;color:#333333"><i style="transform:scaleX(1.007);margin-right:0.05px">4</i><i style="transform:scaleX(1.411);margin-right:1.43px">.</i><i style="transform:scaleX(1.007);margin-right:0.05px">0</i></span>
<span class="t" id="t69" style="left:752.30px;top:564.67px;font-size:12.50px;color:#333333"><i style="transform:scaleX(0.978);margin-right:-0.18px">A</i><i style="transform:scaleX(1.272);margin-right:1.55px;font-size:9.75px;position:relative;top:0.1px">+</i></span>
<span class="t" id="t70" style="left:62.50px;top:593.67px;font-size:12.50px;color:#333333"><i style="transform:scaleX(0.850);margin-right:-1.45px">O</i><i style="transform:scaleX(0.821);margin-right:-1.49px">P</i><i style="transform:scaleX(0.802);margin-right:-1.51px">T</i><i style="transform:scaleX(1.584);margin-right:2.03px">.</i><i style="transform:scaleX(0.982);margin-right:-0.06px">I</i><i style="transform:scaleX(0.982);margin-right:-0.06px">I</i><i style="transform:scaleX(0.850);margin-right:-1.45px;margin-left:3.69px">O</i><i style="transform:scaleX(0.843);margin-right:-1.20px">F</i><i style="transform:scaleX(0.843);margin-right:-1.20px">F</i><i style="transform:scaleX(0.982);margin-right:-0.06px">I</i><i style="transform:scaleX(0.813);margin-right:-1.69px">C</i><i style="transform:scaleX(0.789);margin-right:-1.76px">E</i><i style="transform:scaleX(0.835);margin-right:-1.72px;margin-left:3.69px">M</i><i style="transform:scaleX(0.853);margin-right:-1.43px">G</i><i style="transform:scaleX(0.835);margin-right:-1.72px">M</i><i style="transform:scaleX(0.933);margin-right:-0.51px">T</i><i style="transform:scaleX(1.039);margin-right:0.32px;margin-left:3.69px">&amp;</i><i style="transform:scaleX(0.868);margin-right:-1.10px;margin-left:3.69px">A</i><i style="transform:scaleX(0.813);margin-right:-1.69px">C</i><i style="transform:scaleX(0.813);margin-right:-1.69px">C</i><i style="transform:scaleX(0.850);margin-right:-1.45px">O</i><i style="transform:scaleX(0.881);margin-right:-1.08px">U</i><i style="transform:scaleX(0.867);margin-right:-1.20px">N</i><i style="transform:scaleX(0.933);margin-right:-0.51px">T</i><i style="transform:scaleX(1.082);margin-right:0.34px;margin-left:3.69px">(</i><i style="transform:scaleX(0.933);margin-right:-0.51px">T</i><i style="transform:scaleX(0.889);margin-right:-1.00px">H</i><i style="transform:scaleX(1.082);margin-right:0.34px">)</i></span>
<span class="t" id="t71" style="left:579.00px;top:593.67px;font-size:12.50px;color:#333333"><i style="transform:scaleX(1.007);margin-right:0.05px">3</i></span>
<span class="t" id="t72" style="left:649.35px;top:593.67px;font-size:12.50px;color:#333333"><i style="transform:scaleX(0.876);margin-right:-1.04px">B</i></span>
<span class="t" id="t73" style="left:698.25px;top:593.67px;font-size:12.50px;color:#333333"><i style="transform:scaleX(0.964);margin-right:-0.25px">2</i><i style="transform:scaleX(1.352);margin-right:1.22px">.</i><i style="transform:scaleX(0.964);margin-right:-0.25px">8</i></span>
<span class="t" id="t74" style="left:756.35px;top:593.67px;font-size:12.50px;color:#333333"><i style="transform:scaleX(0.876);margin-right:-1.04px">B</i></span>
<span class="t" id="t75" style="left:62.50px;top:622.67px;font-size:12.50px;color:#333333"><i style="transform:scaleX(0.852);margin-right:-1.44px">O</i><i style="transform:scaleX(0.823);margin-right:-1.48px">P</i><i style="transform:scaleX(0.804);margin-right:-1.49px">T</i><i style="transform:scaleX(1.587);margin-right:2.04px">.</i><i style="transform:scaleX(0.984);margin-right:-0.06px">I</i><i style="transform:scaleX(0.984);margin-right:-0.06px">I</i><i style="transform:scaleX(0.852);margin-right:-1.44px;margin-left:3.70px">O</i><i style="transform:scaleX(0.845);margin-right:-1.18px">F</i><i style="transform:scaleX(0.845);margin-right:-1.18px">F</i><i style="transform:scaleX(0.984);margin-right:-0.06px">I</i><i style="transform:scaleX(0.814);margin-right:-1.68px">C</i><i style="transform:scaleX(0.790);margin-right:-1.75px">E</i><i style="transform:scaleX(0.837);margin-right:-1.70px;margin-left:3.70px">M</i><i style="transform:scaleX(0.855);margin-right:-1.41px">G</i><i style="transform:scaleX(0.837);margin-right:-1.70px">M</i><i style="transform:scaleX(0.935);margin-right:-0.49px">T</i><i style="transform:scaleX(1.041);margin-right:0.34px;margin-left:3.70px">&amp;</i><i style="transform:scaleX(0.870);margin-right:-1.09px;margin-left:3.70px">A</i><i style="transform:scaleX(0.814);margin-right:-1.68px">C</i><i style="transform:scaleX(0.814);margin-right:-1.68px">C</i><i style="transform:scaleX(0.852);margin-right:-1.44px">O</i><i style="transform:scaleX(0.882);margin-right:-1.06px">U</i><i style="transform:scaleX(0.869);margin-right:-1.19px">N</i><i style="transform:scaleX(0.935);margin-right:-0.49px">T</i><i style="transform:scaleX(1.084);margin-right:0.35px;margin-left:3.70px">(</i><i style="transform:scaleX(0.984);margin-right:-0.06px">I</i><i style="transform:scaleX(0.869);margin-right:-1.19px">N</i><i style="transform:scaleX(1.084);margin-right:0.35px">)</i></span>
<span class="t" id="t76" style="left:580.00px;top:622.67px;font-size:12.50px;color:#333333"><i style="transform:scaleX(0.791);margin-right:-1.45px">1</i></span>
<span class="t" id="t77" style="left:645.30px;top:622.67px;font-size:12.50px;color:#333333"><i style="transform:scaleX(0.978);margin-right:-0.18px">A</i><i style="transform:scaleX(1.272);margin-right:1.55px;font-size:9.75px;position:relative;top:0.1px">+</i></span>
<span class="t" id="t78" style="left:697.85px;top:622.67px;font-size:12.50px;color:#333333"><i style="transform:scaleX(1.007);margin-right:0.05px">4</i><i style="transform:scaleX(1.411);margin-right:1.43px">.</i><i style="transform:scaleX(1.007);margin-right:0.05px">0</i></span>
<span class="t" id="t79" style="left:752.30px;top:622.67px;font-size:12.50px;color:#333333"><i style="transform:scaleX(0.978);margin-right:-0.18px">A</i><i style="transform:scaleX(1.272);margin-right:1.55px;font-size:9.75px;position:relative;top:0.1px">+</i></span>
<span class="t" id="t80" style="left:644.20px;top:665.87px;font-size:12.50px;color:#333333"><i style="transform:scaleX(0.862);margin-right:-1.34px">G</i><i style="transform:scaleX(0.799);margin-right:-1.81px">R</i><i style="transform:scaleX(0.877);margin-right:-1.02px">A</i><i style="transform:scaleX(0.842);margin-right:-1.43px">D</i><i style="transform:scaleX(0.797);margin-right:-1.69px">E</i><i style="transform:scaleX(0.830);margin-right:-1.42px;margin-left:3.73px">P</i><i style="transform:scaleX(0.859);margin-right:-1.37px">O</i><i style="transform:scaleX(0.992);margin-right:-0.03px">I</i><i style="transform:scaleX(0.876);margin-right:-1.12px">N</i><i style="transform:scaleX(0.943);margin-right:-0.43px">T</i><i style="transform:scaleX(0.877);margin-right:-1.02px;margin-left:3.73px">A</i><i style="transform:scaleX(0.873);margin-right:-1.06px">V</i><i style="transform:scaleX(0.797);margin-right:-1.69px">E</i><i style="transform:scaleX(0.799);margin-right:-1.81px">R</i><i style="transform:scaleX(0.877);margin-right:-1.02px">A</i><i style="transform:scaleX(0.862);margin-right:-1.34px">G</i><i style="transform:scaleX(0.797);margin-right:-1.69px">E</i><i style="transform:scaleX(1.093);margin-right:0.39px;margin-left:3.73px">(</i><i style="transform:scaleX(0.862);margin-right:-1.34px">G</i><i style="transform:scaleX(0.830);margin-right:-1.42px">P</i><i style="transform:scaleX(0.877);margin-right:-1.02px">A</i><i style="transform:scaleX(1.093);margin-right:0.39px">)</i><i style="transform:scaleX(1.310);margin-right:1.08px;margin-left:3.73px">:</i><i style="transform:scaleX(0.934);margin-right:-0.46px;margin-left:3.73px">3</i><i style="transform:scaleX(1.310);margin-right:1.08px">.</i><i style="transform:scaleX(0.934);margin-right:-0.46px">2</i><i style="transform:scaleX(0.934);margin-right:-0.46px">3</i></span>
<span class="t" id="t81" style="left:55.70px;top:711.66px;font-size:12.80px;color:#333333"><i style="transform:scaleX(0.931);margin-right:-0.49px">1</i><i style="transform:scaleX(1.306);margin-right:1.09px">.</i><i style="transform:scaleX(0.856);margin-right:-1.43px;margin-left:3.81px">O</i><i style="transform:scaleX(0.970);margin-right:-0.21px">n</i><i style="transform:scaleX(0.969);margin-right:-0.22px">e</i><i style="transform:scaleX(0.818);margin-right:-1.68px;margin-left:3.81px">C</i><i style="transform:scaleX(1.155);margin-right:0.66px">r</i><i style="transform:scaleX(0.969);margin-right:-0.22px">e</i><i style="transform:scaleX(0.990);margin-right:-0.07px">d</i><i style="transform:scaleX(1.268);margin-right:0.76px">i</i><i style="transform:scaleX(1.409);margin-right:1.45px">t</i><i style="transform:scaleX(0.895);margin-right:-0.97px;margin-left:3.81px">H</i><i style="transform:scaleX(0.954);margin-right:-0.32px">o</i><i style="transform:scaleX(0.970);margin-right:-0.21px">u</i><i style="transform:scaleX(1.155);margin-right:0.66px">r</i><i style="transform:scaleX(0.969);margin-right:-0.22px;margin-left:3.81px">e</i><i style="transform:scaleX(0.990);margin-right:-0.07px">q</i><i style="transform:scaleX(0.970);margin-right:-0.21px">u</i><i style="transform:scaleX(0.933);margin-right:-0.48px">a</i><i style="transform:scaleX(1.312);margin-right:0.89px">l</i><i style="transform:scaleX(0.801);margin-right:-1.28px">s</i><i style="transform:scaleX(0.931);margin-right:-0.49px;margin-left:3.81px">3</i><i style="transform:scaleX(0.931);margin-right:-0.49px">2</i><i style="transform:scaleX(0.818);margin-right:-1.68px;margin-left:3.81px">C</i><i style="transform:scaleX(1.312);margin-right:0.89px">l</i><i style="transform:scaleX(0.954);margin-right:-0.32px">o</i><i style="transform:scaleX(0.979);margin-right:-0.14px">c</i><i style="transform:scaleX(0.996);margin-right:-0.02px">k</i><i style="transform:scaleX(0.895);margin-right:-0.97px;margin-left:3.81px">H</i><i style="transform:scaleX(0.954);margin-right:-0.32px">o</i><i style="transform:scaleX(0.970);margin-right:-0.21px">u</i><i style="transform:scaleX(1.155);margin-right:0.66px">r</i><i style="transform:scaleX(0.801);margin-right:-1.28px">s</i><i style="transform:scaleX(1.306);margin-right:1.09px">.</i></span>
<span class="t b" id="t82" style="left:581.80px;top:240.30px;font-size:13.00px;color:#333333;transform:rotate(-90deg)"><i style="transform:scaleX(0.741);margin-right:-2.43px">C</i><i style="transform:scaleX(0.740);margin-right:-2.44px">R</i><i style="transform:scaleX(0.747);margin-right:-2.19px">E</i><i style="transform:scaleX(0.778);margin-right:-2.08px">D</i><i style="transform:scaleX(0.878);margin-right:-0.44px">I</i><i style="transform:scaleX(0.874);margin-right:-1.00px">T</i></span>
<span class="t b" id="t83" style="left:595.90px;top:239.30px;font-size:13.00px;color:#333333;transform:rotate(-90deg)"><i style="transform:scaleX(0.818);margin-right:-1.71px">H</i><i style="transform:scaleX(0.782);margin-right:-2.21px">O</i><i style="transform:scaleX(0.811);margin-right:-1.77px">U</i><i style="transform:scaleX(0.731);margin-right:-2.53px">R</i><i style="transform:scaleX(0.662);margin-right:-2.93px">S</i></span>
<span class="t b" id="t84" style="left:643.00px;top:239.10px;font-size:13.00px;color:#333333;transform:rotate(-90deg)"><i style="transform:scaleX(0.797);margin-right:-2.05px">G</i><i style="transform:scaleX(0.782);margin-right:-2.05px">R</i><i style="transform:scaleX(0.812);margin-right:-1.77px">A</i><i style="transform:scaleX(0.823);margin-right:-1.66px">D</i><i style="transform:scaleX(0.790);margin-right:-1.82px">E</i></span>
<span class="t b" id="t85" style="left:690.00px;top:239.10px;font-size:13.00px;color:#333333;transform:rotate(-90deg)"><i style="transform:scaleX(0.797);margin-right:-2.05px">G</i><i style="transform:scaleX(0.782);margin-right:-2.05px">R</i><i style="transform:scaleX(0.812);margin-right:-1.77px">A</i><i style="transform:scaleX(0.823);margin-right:-1.66px">D</i><i style="transform:scaleX(0.790);margin-right:-1.82px">E</i></span>
<span class="t b" id="t86" style="left:704.10px;top:238.00px;font-size:13.00px;color:#333333;transform:rotate(-90deg)"><i style="transform:scaleX(0.831);margin-right:-1.47px">P</i><i style="transform:scaleX(0.856);margin-right:-1.46px">O</i><i style="transform:scaleX(0.950);margin-right:-0.18px">I</i><i style="transform:scaleX(0.873);margin-right:-1.19px">N</i><i style="transform:scaleX(0.946);margin-right:-0.43px">T</i></span>
<span class="t b" id="t87" style="left:742.50px;top:236.50px;font-size:13.00px;color:#333333;transform:rotate(-90deg)"><i style="transform:scaleX(0.872);margin-right:-1.01px">F</i><i style="transform:scaleX(0.919);margin-right:-0.29px">I</i><i style="transform:scaleX(0.846);margin-right:-1.45px">N</i><i style="transform:scaleX(0.804);margin-right:-1.84px">A</i><i style="transform:scaleX(0.827);margin-right:-1.37px">L</i></span>
<span class="t b" id="t88" style="left:756.70px;top:239.10px;font-size:13.00px;color:#333333;transform:rotate(-90deg)"><i style="transform:scaleX(0.797);margin-right:-2.05px">G</i><i style="transform:scaleX(0.782);margin-right:-2.05px">R</i><i style="transform:scaleX(0.812);margin-right:-1.77px">A</i><i style="transform:scaleX(0.823);margin-right:-1.66px">D</i><i style="transform:scaleX(0.790);margin-right:-1.82px">E</i></span>
<span class="t b" id="t89" style="left:809.80px;top:246.50px;font-size:13.00px;color:#333333;transform:rotate(-90deg)"><i style="transform:scaleX(0.789);margin-right:-1.98px">R</i><i style="transform:scaleX(0.797);margin-right:-1.76px">E</i><i style="transform:scaleX(0.834);margin-right:-1.80px">M</i><i style="transform:scaleX(0.818);margin-right:-1.70px">A</i><i style="transform:scaleX(0.789);margin-right:-1.98px">R</i><i style="transform:scaleX(0.796);margin-right:-1.91px">K</i><i style="transform:scaleX(0.714);margin-right:-2.48px">S</i></span>
</body></html>
